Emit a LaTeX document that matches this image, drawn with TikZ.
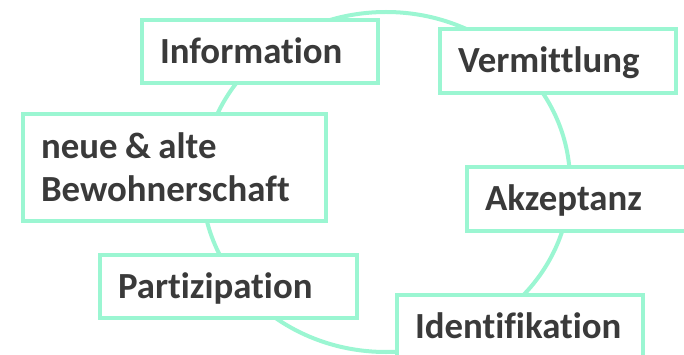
\documentclass[tikz,border=0pt]{standalone}
\usepackage{fontspec}
\setmainfont{Carlito}[Ligatures={NoCommon}]
\definecolor{mint}{RGB}{155,246,210}
\definecolor{txt}{RGB}{58,58,58}
\begin{document}
\begin{tikzpicture}[x=1pt,y=-1pt,
  box/.style={draw=mint, line width=3.5pt, fill=white, rectangle,
    inner xsep=18pt, inner ysep=0pt, align=left, text=txt,
    font=\fontsize{36.8}{43}\selectfont\bfseries},
  one/.style={box, text height=23.5pt, text depth=0pt}]
\useasboundingbox (0,0) rectangle (684,355);
\draw[mint, line width=4pt] (386,182) ellipse [x radius=184, y radius=-170];
\node[one, minimum width=236pt, minimum height=63pt, text width=200pt] (info) at (260,51.5) {Information};
\node[one, minimum width=236pt, minimum height=64pt, text width=200pt] (verm) at (558,61) {Vermittlung};
\node[one, minimum width=223pt, minimum height=64pt, text width=187pt] (akz) at (578.5,199) {Akzeptanz};
\node[box, minimum width=303pt, minimum height=107pt, text width=267pt] (bew) at (174.5,167.5) {\spaceskip=7.5pt neue \& alte\\Bewohnerschaft};
\node[one, minimum width=257pt, minimum height=63pt, text width=221pt] (part) at (228.5,286.5) {Partizipation};
\node[one, minimum width=246pt, minimum height=64pt, text width=210pt] (ident) at (520,327) {Identifikation};
\end{tikzpicture}
\end{document}
